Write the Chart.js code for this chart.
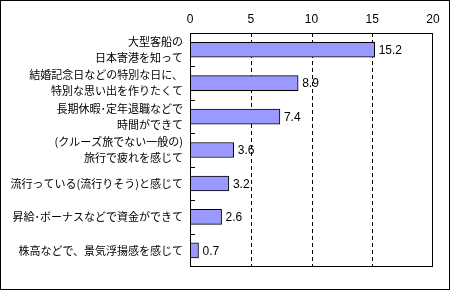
<!DOCTYPE html>
<html>
<head>
<meta charset="utf-8">
<script src="https://cdn.jsdelivr.net/npm/chart.js@4.4.0/dist/chart.umd.min.js"></script>
<style>
  body { margin: 0; background: #fff; }
</style>
</head>
<body>
<canvas id="myChart" width="450" height="290"></canvas>
<script>
// categories (multi-line labels) and values
var labels = [
  ['大型客船の', '日本寄港を知って'],
  ['結婚記念日などの特別な日に、', '特別な思い出を作りたくて'],
  ['長期休暇･定年退職などで', '時間ができて'],
  ['(クルーズ旅でない一般の)', '旅行で疲れを感じて'],
  '流行っている(流行りそう)と感じて',
  '昇給･ボーナスなどで資金ができて',
  '株高などで、景気浮揚感を感じて'
];
var values = [15.2, 8.9, 7.4, 3.6, 3.2, 2.6, 0.7];
var xTicks = [0, 5, 10, 15, 20];
var dashedAt = [5, 10, 15];

var numFont = { family: 'Liberation Sans, Arial, sans-serif', size: 12 };

// dashed grid lines behind the bars
var gridPlugin = {
  id: 'dashgrid',
  beforeDatasetsDraw: function(chart) {
    var ctx = chart.ctx, a = chart.chartArea, xs = chart.scales.x;
    ctx.save();
    ctx.strokeStyle = '#000';
    ctx.lineWidth = 1;
    ctx.setLineDash([4, 3]);
    ctx.beginPath();
    dashedAt.forEach(function(v) {
      var x = Math.round(xs.getPixelForValue(v)) + 0.5;
      ctx.moveTo(x, a.top);
      ctx.lineTo(x, a.bottom);
    });
    ctx.stroke();
    ctx.restore();
  }
};

// frame around plot area + image, inner category ticks
var framePlugin = {
  id: 'frame',
  afterDraw: function(chart) {
    var ctx = chart.ctx, a = chart.chartArea;
    var ys = chart.scales.y;
    ctx.save();
    ctx.strokeStyle = '#000';
    ctx.lineWidth = 1;
    ctx.setLineDash([]);
    ctx.strokeRect(Math.round(a.left) + 0.5, Math.round(a.top) + 0.5,
      Math.round(a.right - a.left) - 1, Math.round(a.bottom - a.top) - 1);
    ctx.strokeRect(0.5, 0.5, chart.width - 1, chart.height - 1);
    ctx.beginPath();
    for (var i = 1; i < labels.length; i++) {
      var y = Math.round((ys.getPixelForValue(i - 1) + ys.getPixelForValue(i)) / 2) + 0.5;
      ctx.moveTo(Math.round(a.left), y);
      ctx.lineTo(Math.round(a.left) + 5, y);
    }
    ctx.stroke();
    ctx.restore();
  }
};

// value labels to the right of bars
var valuePlugin = {
  id: 'values',
  afterDatasetsDraw: function(chart) {
    var ctx = chart.ctx;
    var meta = chart.getDatasetMeta(0);
    ctx.save();
    ctx.fillStyle = '#000';
    ctx.font = numFont.size + 'px ' + numFont.family;
    ctx.textAlign = 'left';
    ctx.textBaseline = 'middle';
    meta.data.forEach(function(bar, i) {
      ctx.fillText(values[i].toFixed(1), bar.x + 4, bar.y + 1);
    });
    ctx.restore();
  }
};

var config = {
  type: 'bar',
  data: {
    labels: labels,
    datasets: [{
      data: values,
      backgroundColor: '#9999ff',
      borderColor: '#000',
      borderWidth: 1,
      borderSkipped: false,
      barThickness: 15
    }]
  },
  options: {
    indexAxis: 'y',
    responsive: false,
    animation: false,
    layout: { padding: { left: 0, right: 17, top: 0, bottom: 7 } },
    plugins: { legend: { display: false }, tooltip: { enabled: false } },
    scales: {
      x: {
        position: 'top',
        min: 0,
        max: 20,
        afterBuildTicks: function(s) { s.ticks = xTicks.map(function(v) { return { value: v }; }); },
        afterFit: function(s) { s.height = 33; },
        ticks: { color: '#000', font: numFont, padding: 6 },
        grid: { display: false, drawTicks: false },
        border: { display: false }
      },
      y: {
        afterFit: function(s) { s.width = 190; },
        ticks: {
          color: '#000',
          font: { family: 'Noto Sans CJK JP', size: 11, lineHeight: 1.45 },
          padding: 7,
          autoSkip: false
        },
        grid: { display: false, drawTicks: false },
        border: { display: false }
      }
    }
  },
  plugins: [gridPlugin, framePlugin, valuePlugin]
};

var myChart = new Chart(document.getElementById('myChart'), config);
</script>
</body>
</html>
